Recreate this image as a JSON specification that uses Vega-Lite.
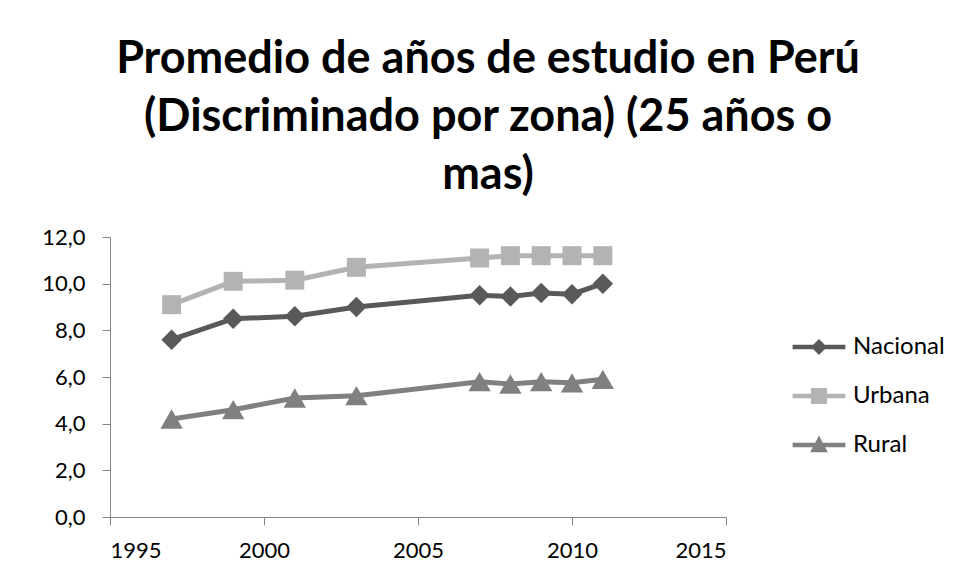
{
  "$schema": "https://vega.github.io/schema/vega-lite/v6.json",
  "width": 616,
  "height": 280,
  "autosize": {"type": "none"},
  "padding": {"left": 110, "top": 237, "right": 232, "bottom": 60},
  "background": "white",
  "config": {
    "view": {"stroke": null},
    "font": "Lato",
    "axis": {"labelFont": "Lato", "labelFontSize": 22, "labelColor": "black", "domainColor": "#868686", "tickColor": "#868686", "domainWidth": 1, "tickWidth": 1, "grid": false, "title": null}
  },
  "title": {
    "text": ["Promedio de años de estudio en Perú", "(Discriminado por zona) (25 años o", "mas)"],
    "font": "Lato",
    "fontSize": 45,
    "fontWeight": "bold",
    "color": "black",
    "lineHeight": 58,
    "anchor": "middle",
    "dx": 70,
    "offset": 28
  },
  "data": {
    "values": [
      {"year": 1997, "zona": "Nacional", "valor": 7.6},
      {"year": 1999, "zona": "Nacional", "valor": 8.5},
      {"year": 2001, "zona": "Nacional", "valor": 8.6},
      {"year": 2003, "zona": "Nacional", "valor": 9.0},
      {"year": 2007, "zona": "Nacional", "valor": 9.5},
      {"year": 2008, "zona": "Nacional", "valor": 9.45},
      {"year": 2009, "zona": "Nacional", "valor": 9.6},
      {"year": 2010, "zona": "Nacional", "valor": 9.55},
      {"year": 2011, "zona": "Nacional", "valor": 10.0},
      {"year": 1997, "zona": "Urbana", "valor": 9.1},
      {"year": 1999, "zona": "Urbana", "valor": 10.1},
      {"year": 2001, "zona": "Urbana", "valor": 10.15},
      {"year": 2003, "zona": "Urbana", "valor": 10.7},
      {"year": 2007, "zona": "Urbana", "valor": 11.1},
      {"year": 2008, "zona": "Urbana", "valor": 11.2},
      {"year": 2009, "zona": "Urbana", "valor": 11.2},
      {"year": 2010, "zona": "Urbana", "valor": 11.2},
      {"year": 2011, "zona": "Urbana", "valor": 11.2},
      {"year": 1997, "zona": "Rural", "valor": 4.2},
      {"year": 1999, "zona": "Rural", "valor": 4.6},
      {"year": 2001, "zona": "Rural", "valor": 5.1},
      {"year": 2003, "zona": "Rural", "valor": 5.2},
      {"year": 2007, "zona": "Rural", "valor": 5.8},
      {"year": 2008, "zona": "Rural", "valor": 5.7},
      {"year": 2009, "zona": "Rural", "valor": 5.8},
      {"year": 2010, "zona": "Rural", "valor": 5.75},
      {"year": 2011, "zona": "Rural", "valor": 5.9}
    ]
  },
  "encoding": {
    "x": {"field": "year", "type": "quantitative", "scale": {"domain": [1995, 2015], "nice": false, "zero": false},
      "axis": {"values": [1995, 2000, 2005, 2010, 2015], "format": "d", "tickSize": 8, "labelPadding": 15, "labelFontSize": 22}},
    "y": {"field": "valor", "type": "quantitative", "scale": {"domain": [0, 12], "nice": false},
      "axis": {"values": [0, 2, 4, 6, 8, 10, 12], "tickSize": 8, "labelPadding": 17, "labelFontSize": 22, "labelExpr": "replace(format(datum.value, '.1f'), '.', ',')"}}
  },
  "layer": [
    {"transform": [{"filter": "datum.zona == 'Rural'"}],
     "mark": {"type": "line", "color": "#808080", "strokeWidth": 5, "point": {"shape": "triangle-up", "filled": true, "opacity": 1, "size": 500, "color": "#808080"}}},
    {"transform": [{"filter": "datum.zona == 'Nacional'"}],
     "mark": {"type": "line", "color": "#595959", "strokeWidth": 5, "point": {"shape": "diamond", "filled": true, "opacity": 1, "size": 420, "color": "#595959"}}},
    {"transform": [{"filter": "datum.zona == 'Urbana'"}],
     "mark": {"type": "line", "color": "#b3b3b3", "strokeWidth": 5, "point": {"shape": "square", "filled": true, "opacity": 1, "size": 360, "color": "#b3b3b3"}}},
    {"mark": {"type": "point", "filled": true, "size": 0, "strokeWidth": 0},
     "encoding": {
       "shape": {"field": "zona", "type": "nominal", "scale": {"domain": ["Nacional", "Urbana", "Rural"], "range": [
         "M-3.3,-0.28H3.3V0.28H-3.3Z M0,-1L1,0L0,1L-1,0Z",
         "M-3.3,-0.28H3.3V0.28H-3.3Z M-1,-1H1V1H-1Z",
         "M-3.3,-0.28H3.3V0.28H-3.3Z M0,-1.2L1.1,0.9L-1.1,0.9Z"
       ]}, "legend": {"title": null, "orient": "none", "legendX": 697, "legendY": 98, "symbolSize": 256, "symbolStrokeWidth": 0, "labelFont": "Lato", "labelFontSize": 24, "labelColor": "black", "labelOffset": 22, "rowPadding": 25, "symbolOpacity": 1}},
       "color": {"field": "zona", "type": "nominal", "scale": {"domain": ["Nacional", "Urbana", "Rural"], "range": ["#595959", "#b3b3b3", "#808080"]},
         "legend": {"title": null, "orient": "none", "legendX": 697, "legendY": 98, "symbolSize": 256, "symbolStrokeWidth": 0, "labelFont": "Lato", "labelFontSize": 24, "labelColor": "black", "labelOffset": 22, "rowPadding": 25, "symbolOpacity": 1}}
     }
    }
  ]
}
